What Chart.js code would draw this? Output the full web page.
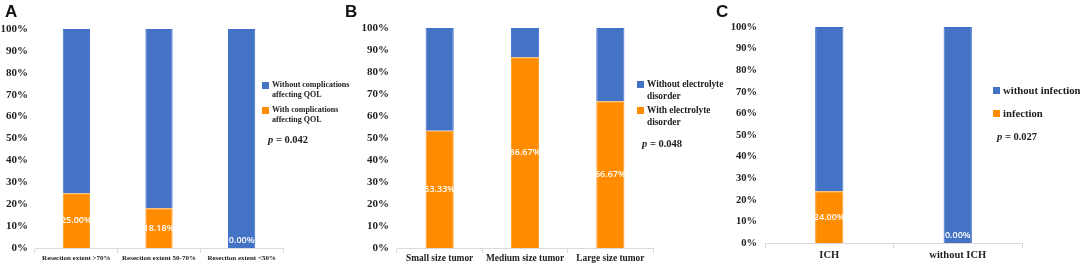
<!DOCTYPE html>
<html>
<head>
<meta charset="utf-8">
<script src="https://cdn.jsdelivr.net/npm/chart.js@4/dist/chart.umd.min.js"></script>
<style>
  html, body { margin: 0; padding: 0; background: #fff; }
  #wrap { position: relative; width: 1084px; height: 267px; overflow: hidden; background: #fff; }
  canvas { position: absolute; top: 0; }
  .lbl { position: absolute; font-family: "Liberation Serif", serif; font-weight: bold; color: #222; white-space: nowrap; }
  .letter { position: absolute; font-family: "Liberation Sans", Arial, sans-serif; font-weight: bold; font-size: 17px; color: #111; }
  .sw { display: inline-block; width: 7px; height: 7px; margin-right: 3px; vertical-align: top; }
  .leg { position: absolute; font-family: "Liberation Serif", serif; font-weight: bold; color: #222; white-space: nowrap; }
  .leg .item { position: relative; padding-left: 10px; }
  .leg .item .sw { position: absolute; left: 0; }
</style>
</head>
<body>
<div id="wrap">
  <canvas id="cA" width="360" height="267" style="left:0px;width:360px;height:267px"></canvas>
  <canvas id="cB" width="360" height="267" style="left:360px;width:360px;height:267px"></canvas>
  <canvas id="cC" width="364" height="267" style="left:720px;width:364px;height:267px"></canvas>
</div>
<script>
// ---- Data ----
const panelLetters = ["A", "B", "C"];

const categoriesA = ["Resection extent >70%", "Resection extent 50-70%", "Resection extent <50%"];
const withA = [25.00, 18.18, 0.00];
const withoutA = [75.00, 81.82, 100.00];
const seriesNamesA = ["Without complications affecting QOL", "With complications affecting QOL"];
const legendLinesA = [["Without complications", "affecting QOL"], ["With complications", "affecting QOL"]];
const pA = "0.042";

const categoriesB = ["Small size tumor", "Medium size tumor", "Large size tumor"];
const withB = [53.33, 86.67, 66.67];
const withoutB = [46.67, 13.33, 33.33];
const seriesNamesB = ["Without electrolyte disorder", "With electrolyte disorder"];
const legendLinesB = [["Without electrolyte", "disorder"], ["With electrolyte", "disorder"]];
const pB = "0.048";

const categoriesC = ["ICH", "without ICH"];
const withC = [24.00, 0.00];
const withoutC = [76.00, 100.00];
const seriesNamesC = ["without infection", "infection"];
const legendLinesC = [["without infection"], ["infection"]];
const pC = "0.027";

const yTicks = [0, 10, 20, 30, 40, 50, 60, 70, 80, 90, 100];

const BLUE = "#4472C4";
const ORANGE = "#FF8C00";

// value label plugin for the orange dataset
const valueLabels = {
  id: "valueLabels",
  afterDatasetsDraw(chart, args, opts) {
    const ctx = chart.ctx;
    const meta = chart.getDatasetMeta(0);
    const ds = chart.data.datasets[0];
    const yScale = chart.scales.y;
    ctx.save();
    ctx.fillStyle = "#ffffff";
    ctx.font = "600 " + opts.size + "px 'Open Sans', sans-serif";
    ctx.textAlign = "center";
    ctx.textBaseline = "middle";
    meta.data.forEach((bar, i) => {
      const v = ds.data[i];
      const base = yScale.getPixelForValue(0);
      let y = (bar.y + base) / 2;
      y = Math.min(y, base - opts.size * 0.85);
      ctx.fillText(v.toFixed(2) + "%", bar.x, y);
    });
    ctx.restore();
  }
};

function makeChart(id, cats, withV, withoutV, names, cfg) {
  return new Chart(document.getElementById(id), {
    type: "bar",
    data: {
      labels: cats,
      datasets: [
        { label: names[1], data: withV, backgroundColor: ORANGE, borderColor: "#FF9A1F", borderWidth: 1,
          barPercentage: cfg.barPct, categoryPercentage: 1 },
        { label: names[0], data: withoutV, backgroundColor: BLUE, borderColor: "#3F6FD0", borderWidth: 1,
          barPercentage: cfg.barPct, categoryPercentage: 1 }
      ]
    },
    options: {
      responsive: false,
      animation: false,
      devicePixelRatio: 1,
      layout: { padding: { left: 0, top: cfg.top, right: cfg.right, bottom: 0 } },
      plugins: {
        legend: { display: false },
        tooltip: { enabled: false },
        valueLabels: { size: cfg.valSize }
      },
      scales: {
        x: {
          stacked: true,
          offset: true,
          grid: { display: true, drawOnChartArea: false, drawTicks: true, tickLength: 5, color: "#d9d9d9", offset: true },
          border: { display: true, color: "#d9d9d9" },
          ticks: { color: "#222", padding: cfg.xPad, maxRotation: 0, autoSkip: false,
                   font: { family: "'Liberation Serif', serif", weight: "bold", size: cfg.xSize } },
          afterFit: (s) => { s.height = cfg.xH; }
        },
        y: {
          stacked: true,
          min: 0, max: 100,
          afterBuildTicks: (s) => { s.ticks = yTicks.map(v => ({ value: v })); },
          grid: { display: false, drawTicks: false },
          border: { display: false },
          ticks: { color: "#222", padding: cfg.yPad, callback: (v) => v + "%",
                   font: { family: "'Liberation Serif', serif", weight: "bold", size: cfg.ySize } },
          afterFit: (s) => { s.width = cfg.yW; }
        }
      }
    },
    plugins: [valueLabels]
  });
}

makeChart("cA", categoriesA, withA, withoutA, seriesNamesA,
  { top: 29, right: 77, yW: 35, yPad: 7, xH: 19, xPad: 1, xSize: 7, ySize: 11, barPct: 0.33, valSize: 9 });
makeChart("cB", categoriesB, withB, withoutB, seriesNamesB,
  { top: 28, right: 67, yW: 37, yPad: 8, xH: 19, xPad: 0, xSize: 9.4, ySize: 11, barPct: 0.33, valSize: 9 });
makeChart("cC", categoriesC, withC, withoutC, seriesNamesC,
  { top: 27, right: 62, yW: 45, yPad: 8, xH: 24, xPad: 1, xSize: 10.5, ySize: 10.5, barPct: 0.22, valSize: 9 });

// ---- overlays: panel letters, legends, p values ----
const wrap = document.getElementById("wrap");
function addDiv(cls, html, style) {
  const d = document.createElement("div");
  d.className = cls;
  d.innerHTML = html;
  Object.assign(d.style, style);
  wrap.appendChild(d);
  return d;
}
const letterPos = [[5, 2], [345, 2], [716, 2]];
panelLetters.forEach((L, i) => addDiv("letter", L, { left: letterPos[i][0] + "px", top: letterPos[i][1] + "px" }));

function addLegend(lines, x, y, size, lh, gap) {
  const colors = [BLUE, ORANGE];
  let html = "";
  lines.forEach((ls, i) => {
    html += '<div class="item" style="margin-bottom:' + gap + 'px;line-height:' + lh + 'px">' +
      '<span class="sw" style="background:' + colors[i] + ';top:' + ((lh - 7) / 2) + 'px"></span>' +
      ls.join("<br>") + '</div>';
  });
  addDiv("leg", html, { left: x + "px", top: y + "px", fontSize: size + "px" });
}
addLegend(legendLinesA, 262, 80, 8, 10, 5);
addLegend(legendLinesB, 637, 78, 9.3, 12, 2);
addLegend(legendLinesC, 993, 84, 10.7, 12, 11);

function addP(val, x, y, size) {
  addDiv("lbl", '<i>p</i> = ' + val, { left: x + "px", top: y + "px", fontSize: size + "px" });
}
addP(pA, 268, 134, 10.5);
addP(pB, 642, 138, 10.5);
addP(pC, 997, 131, 10.5);
</script>
</body>
</html>
